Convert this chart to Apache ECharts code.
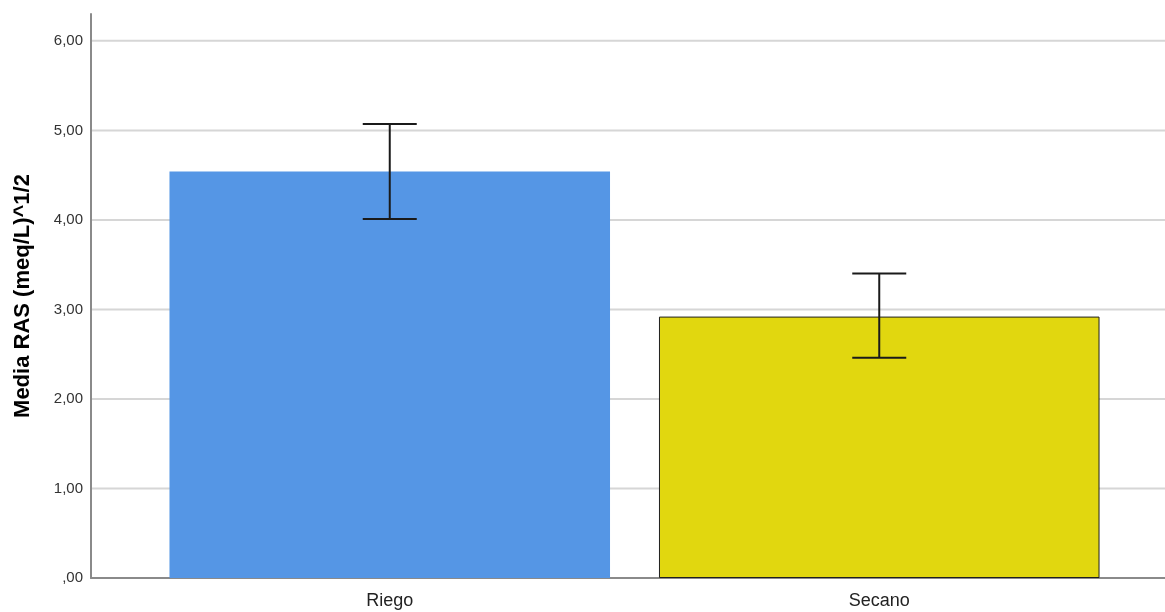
<!DOCTYPE html>
<html>
<head>
<meta charset="utf-8">
<title>Media RAS por sistema</title>
<script src="https://cdn.jsdelivr.net/npm/echarts@6/dist/echarts.min.js"></script>
<style>
  html, body { margin: 0; padding: 0; background: #ffffff; }
  #chart { width: 1165px; height: 612px; }
</style>
</head>
<body>
<div id="chart"></div>
<script>
// Groups and their mean RAS with the confidence interval ends
const categories = ['Riego', 'Secano'];
const means = [4.54, 2.92];
const ciLower = [4.01, 2.46];
const ciUpper = [5.07, 3.40];

// Value axis
const yTicks = [0, 1, 2, 3, 4, 5, 6];
const yMax = 6.3;
const yTitle = 'Media RAS (meq/L)^1/2';

const barColors = ['#5596e5', '#e1d70f'];
const barBorders = [null, '#1f1f1f'];

const FONT = '"Liberation Sans", Arial, sans-serif';

// SPSS-style number: comma decimal, no leading zero
function fmt(v) {
  return v.toFixed(2).replace('.', ',').replace(/^0,/, ',');
}

const chart = echarts.init(document.getElementById('chart'), null, { renderer: 'canvas' });

const option = {
  animation: false,
  backgroundColor: '#ffffff',
  grid: [
    // frame grid: axis lines, tick labels and gridlines
    { left: 91, right: 0, top: 14, bottom: 34 },
    // bar grid: category bands
    { left: 145, right: 41, top: 14, bottom: 34 }
  ],
  xAxis: [
    {
      gridIndex: 0, type: 'value', min: 0, max: 1,
      axisLine: { show: true, lineStyle: { color: '#8a8a8a', width: 2 } },
      axisTick: { show: false }, axisLabel: { show: false }, splitLine: { show: false }
    },
    {
      gridIndex: 1, type: 'category', data: categories,
      axisLine: { show: false }, axisTick: { show: false },
      axisLabel: { color: '#222', fontSize: 18, fontFamily: FONT, margin: 14 }
    }
  ],
  yAxis: [
    {
      gridIndex: 0, type: 'value', min: 0, max: yMax, interval: 1,
      name: yTitle, nameLocation: 'middle', nameGap: 57,
      nameTextStyle: { fontSize: 22, fontWeight: 'bold', color: '#000', fontFamily: FONT },
      axisLine: { show: true, lineStyle: { color: '#8a8a8a', width: 2 } },
      axisTick: { show: false },
      axisLabel: {
        color: '#333', fontSize: 15, fontFamily: FONT, margin: 8,
        formatter: function (v) { return yTicks.indexOf(v) >= 0 ? fmt(v) : ''; }
      },
      splitLine: { show: false }
    },
    {
      gridIndex: 1, type: 'value', min: 0, max: yMax, show: false, splitLine: { show: false }
    }
  ],
  series: [
    {
      // horizontal gridlines at the labelled ticks
      type: 'custom', xAxisIndex: 0, yAxisIndex: 0, z: 1, silent: true,
      data: yTicks.filter(function (v) { return v > 0; }).map(function (v) { return [v]; }),
      renderItem: function (params, api) {
        const v = api.value(0);
        const p0 = api.coord([0, v]);
        const p1 = api.coord([1, v]);
        return {
          type: 'line',
          shape: { x1: p0[0] + 1, y1: p0[1], x2: p1[0], y2: p1[1] },
          style: { stroke: '#d6d6d6', lineWidth: 2 }
        };
      }
    },
    {
      type: 'bar', xAxisIndex: 1, yAxisIndex: 1, z: 2, barWidth: '90%',
      data: means.map(function (m, i) {
        return {
          value: m,
          itemStyle: {
            color: barColors[i],
            borderColor: barBorders[i] || barColors[i],
            borderWidth: barBorders[i] ? 1 : 0
          }
        };
      })
    },
    {
      // confidence interval whiskers
      type: 'custom', xAxisIndex: 1, yAxisIndex: 1, z: 3, silent: true,
      data: categories.map(function (c, i) { return [i, ciLower[i], ciUpper[i]]; }),
      renderItem: function (params, api) {
        const lo = api.coord([api.value(0), api.value(1)]);
        const hi = api.coord([api.value(0), api.value(2)]);
        const half = 27;
        const st = { stroke: '#1a1a1a', lineWidth: 2 };
        return {
          type: 'group',
          children: [
            { type: 'line', shape: { x1: hi[0], y1: hi[1], x2: lo[0], y2: lo[1] }, style: st },
            { type: 'line', shape: { x1: hi[0] - half, y1: hi[1], x2: hi[0] + half, y2: hi[1] }, style: st },
            { type: 'line', shape: { x1: lo[0] - half, y1: lo[1], x2: lo[0] + half, y2: lo[1] }, style: st }
          ]
        };
      }
    }
  ]
};

chart.setOption(option);
</script>
</body>
</html>
